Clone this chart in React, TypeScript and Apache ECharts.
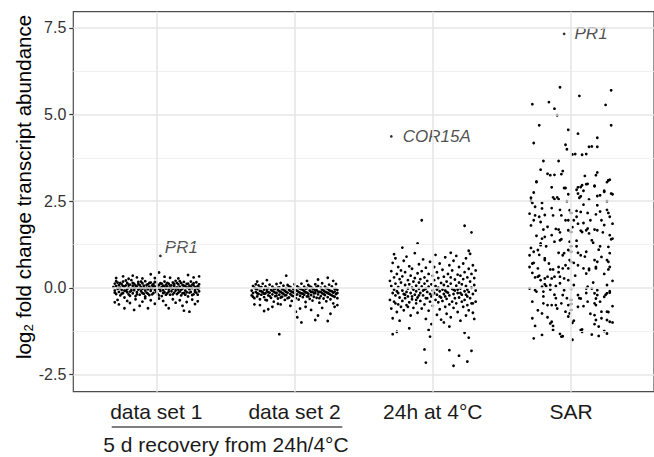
import React, { useEffect, useRef } from "react";
import * as echarts from "echarts";

const categories = ["data set 1", "data set 2", "24h at 4°C", "SAR"];
const yTicks = [-2.5, 0, 2.5, 5, 7.5];
const yMinor = [-1.25, 1.25, 3.75, 6.25];
const xTicks = [1, 2, 3, 4];

// each point: [horizontal jitter ×100 (category units), log2 fold change ×100]
const dataSet1: number[][] = [
  [-31,2],[-30,-8],[-30,12],[-29,-18],[-29,5],[-28,-3],[-28,15],[-27,-12],[-27,8],[-26,-22],[-26,0],[-25,10],[-25,-6],[-24,18],[-24,-15],[-23,3],[-23,-28],[-22,-9],[-22,7],[-21,14],[-21,-4],[-20,-19],[-20,1],[-19,9],[-19,-11],[-18,22],[-18,-2],[-17,-16],[-17,6],[-16,-7],[-16,12],[-15,-24],[-15,0],[-14,4],[-14,-13],[-13,17],[-13,-5],[-12,-20],[-12,8],[-11,2],[-11,-10],[-10,13],[-10,-3],[-9,-17],[-9,6],[-8,-8],[-8,19],[-7,0],[-7,-14],[-6,10],[-6,-4],[-5,-21],[-5,3],[-4,15],[-4,-9],[-3,-1],[-3,7],[-2,-15],[-2,11],[-1,-6],[-1,4],[0,-12],[0,16],[1,1],[1,-18],[2,8],[2,-3],[3,-9],[3,13],[4,-24],[4,2],[5,6],[5,-7],[6,18],[6,-13],[7,-2],[7,9],[8,-16],[8,4],[9,12],[9,-5],[10,-20],[10,0],[11,7],[11,-10],[12,15],[12,-3],[13,-14],[13,5],[14,-8],[14,20],[15,1],[15,-18],[16,10],[16,-5],[17,-11],[17,3],[18,14],[18,-22],[19,-2],[19,8],[20,-15],[20,17],[21,4],[21,-8],[22,-13],[22,11],[23,0],[23,-25],[24,6],[24,-4],[25,18],[25,-12],[26,-1],[26,9],[27,-19],[27,13],[28,2],[28,-7],[29,-14],[29,16],[30,5],[30,-3],[31,-10],[31,10],
  [-30,-14],[-29,19],[-27,-1],[-26,14],[-25,-17],[-24,5],[-23,-8],[-22,21],[-21,-13],[-20,9],[-19,-23],[-18,-8],[-17,14],[-16,-1],[-15,7],[-14,-19],[-13,11],[-12,-2],[-11,18],[-10,-15],[-9,0],[-8,-25],[-7,8],[-6,-17],[-5,14],[-4,-2],[-3,-19],[-2,3],[-1,17],[0,-4],[1,9],[2,-22],[3,-2],[4,12],[5,-15],[6,3],[7,-20],[8,14],[9,-11],[10,7],[11,-1],[12,-19],[13,11],[14,-2],[15,14],[16,-14],[17,19],[18,-6],[19,-16],[20,6],[21,-20],[22,1],[23,12],[24,-14],[25,3],[26,-21],[27,7],[28,-12],[29,1],[30,-20],[31,0],
  [-28,-35],[-27,-48],[-23,-59],[-21,-38],[-19,-44],[-16,-64],[-15,-33],[-12,-52],[-10,-40],[-6,-59],[-4,-36],[-1,-46],[2,-31],[5,-38],[9,-59],[12,-33],[14,-43],[17,-36],[19,-52],[20,-66],[22,-41],[24,-69],[26,-34],[28,-47],[30,-39],[-30,-42],[-8,-30],[7,-50],
  [-29,28],[-24,33],[-20,26],[-14,30],[-10,27],[-4,39],[-1,28],[2,44],[6,32],[10,29],[16,27],[23,37],[27,30],[31,33],[-17,35]
];

const dataSet2: number[][] = [
  [-31,-8],[-31,-22],[-30,5],[-30,-15],[-29,-30],[-29,0],[-28,-12],[-28,10],[-27,-25],[-27,-4],[-26,-18],[-26,7],[-25,-9],[-25,-33],[-24,2],[-24,-20],[-23,-13],[-23,12],[-22,-27],[-22,-5],[-21,-16],[-21,4],[-20,-10],[-20,-36],[-19,-1],[-19,-22],[-18,9],[-18,-14],[-17,-29],[-17,-6],[-16,-19],[-16,3],[-15,-11],[-15,-40],[-14,-3],[-14,-24],[-13,11],[-13,-15],[-12,-31],[-12,-7],[-11,-20],[-11,1],[-10,-12],[-10,14],[-9,-26],[-9,-4],[-8,-17],[-8,6],[-7,-9],[-7,-35],[-6,-1],[-6,-21],[-5,-14],[-5,8],[-4,-28],[-4,-6],[-3,-18],[-3,2],[-2,-11],[-2,-38],[-1,-3],[-1,-24],[0,10],[0,-15],[1,-30],[1,-7],[2,-19],[2,4],[3,-12],[3,-34],[4,-2],[4,-23],[5,12],[5,-16],[6,-27],[6,-6],[7,-20],[7,3],[8,-13],[8,-41],[9,-1],[9,-25],[10,8],[10,-17],[11,-32],[11,-8],[12,-21],[12,2],[13,-11],[13,-37],[14,-4],[14,-26],[15,10],[15,-15],[16,-29],[16,-7],[17,-19],[17,5],[18,-12],[18,-43],[19,0],[19,-24],[20,13],[20,-16],[21,-31],[21,-8],[22,-21],[22,3],[23,-13],[23,-39],[24,-2],[24,-27],[25,9],[25,-17],[26,-33],[26,-9],[27,-22],[27,4],[28,-14],[28,-45],[29,-3],[29,-26],[30,11],[30,-18],[31,-6],[31,-30],
  [-30,-26],[-28,-2],[-27,-16],[-25,1],[-24,-10],[-22,-17],[-21,-35],[-20,-3],[-19,-13],[-18,-24],[-16,-9],[-15,-2],[-14,-14],[-13,-23],[-12,0],[-11,-10],[-10,-28],[-9,-15],[-8,-5],[-7,-22],[-6,-12],[-5,-30],[-4,4],[-3,-9],[-2,-22],[-1,-13],[0,-5],[1,-20],[2,-9],[3,0],[4,-14],[5,-4],[6,-17],[7,-10],[8,-3],[9,-14],[10,-25],[11,4],[12,-12],[13,-2],[14,-16],[15,-8],[16,2],[17,-11],[18,-30],[19,-12],[20,-5],[21,-18],[22,-11],[23,-1],[24,-15],[25,-7],[26,-20],[27,-10],[28,-24],[29,-11],[30,-4],[31,-15],
  [-6,35],[24,29],[-20,22],[9,20],[-27,18],[17,24],[28,20],
  [-22,-67],[-19,-62],[-16,-55],[-25,-50],[-10,-48],[-3,-52],[1,-69],[2,-85],[5,-100],[4,-60],[8,-55],[12,-64],[15,-93],[17,-80],[20,-58],[24,-96],[26,-75],[29,-55],[31,-50],[-12,-46],[-29,-48],[-11,-134]
];

const cold24h: number[][] = [
  [-31,-35],[-31,20],[-30,-60],[-30,5],[-30,48],[-29,-15],[-29,72],[-29,-88],[-28,30],[-28,-40],[-28,-5],[-27,85],[-27,-22],[-27,12],[-26,-70],[-26,40],[-26,-10],[-25,60],[-25,-48],[-25,2],[-24,-28],[-24,25],[-24,-95],[-23,15],[-23,-55],[-23,50],[-22,-8],[-22,33],[-22,-38],[-21,78],[-21,-18],[-21,-65],[-20,8],[-20,-30],[-20,45],[-19,-12],[-19,90],[-19,-50],[-18,22],[-18,-25],[-18,-2],[-17,62],[-17,-42],[-17,10],[-16,-80],[-16,35],[-16,-15],[-15,0],[-15,-33],[-15,55],[-14,-58],[-14,18],[-14,-5],[-13,100],[-13,-20],[-13,28],[-12,-45],[-12,6],[-12,-10],[-11,42],[-11,-28],[-11,-72],[-10,15],[-10,-3],[-10,68],[-9,-38],[-9,25],[-9,-15],[-8,-60],[-8,4],[-8,48],[-7,-22],[-7,82],[-7,-8],[-6,30],[-6,-48],[-6,12],[-5,-90],[-5,-2],[-5,58],[-4,-30],[-4,20],[-4,-12],[-3,40],[-3,-66],[-3,3],[-2,-18],[-2,75],[-2,-40],[-1,10],[-1,-25],[-1,-105],[0,35],[0,-8],[0,-52],[1,60],[1,-15],[1,22],[2,-35],[2,5],[2,95],[3,-78],[3,-20],[3,45],[4,0],[4,-42],[4,28],[5,-10],[5,70],[5,-62],[6,14],[6,-28],[6,-92],[7,52],[7,-5],[7,-38],[8,32],[8,-18],[8,8],[9,-55],[9,88],[9,-8],[10,18],[10,-32],[10,-75],[11,40],[11,-14],[11,4],[12,-48],[12,65],[12,-22],[13,12],[13,-85],[13,30],[14,-3],[14,-40],[14,50],[15,-18],[15,78],[15,-58],[16,24],[16,-8],[16,-30],[17,92],[17,-45],[17,6],[18,-15],[18,38],[18,-70],[19,15],[19,-28],[19,60],[20,-2],[20,-95],[20,35],[21,-40],[21,10],[21,-20],[22,70],[22,-55],[22,25],[23,-10],[23,45],[23,-35],[24,-80],[24,5],[24,85],[25,-25],[25,30],[25,-50],[26,55],[26,-12],[26,-65],[27,18],[27,-30],[27,98],[28,-45],[28,40],[28,0],[29,-72],[29,65],[29,-18],[30,28],[30,-90],[30,8],[31,-40],[31,50],[31,-8],
  [-25,-15],[-20,-20],[-15,-25],[-10,-22],[-5,-30],[0,-20],[5,-25],[10,-12],[15,-5],[20,-15],[25,-5],[-27,-45],[-18,-55],[-12,-35],[-6,-5],[3,-5],[9,-25],[18,-5],[24,-20],[29,-45],
  [-8,195],[23,179],[28,160],[-11,128],[-22,116],[-28,97],[26,107],[13,101],[-29,-134],[-26,-127],[-17,-117],[-3,-122],[-2,-141],[-6,-178],[-5,-216],[12,-180],[19,-196],[25,-213],[28,-182],[15,-225],[23,-130],[26,-144],[8,-100],[12,-112]
];

const sar: number[][] = [
  [-8,579],[-28,530],[-16,536],[-12,517],[-10,498],[6,554],[29,570],[25,528],[29,469],[-23,469],[-2,456],[5,445],[-27,418],[-4,413],[-3,400],[19,433],[13,407],[15,408],[19,407],[1,385],[3,386],[8,384],[11,386],[-20,366],[-9,366],[-22,341],[-17,329],[-15,325],[-12,326],[-6,337],[-7,328],[19,333],[18,325],[-25,307],[10,323],[27,310],[28,312],[-4,288],[5,290],[8,296],[12,300],[17,295],[24,280],[29,272],[-29,260],[-13,261],[-10,261],
  [-25,305],[-5,288],[4,283],[7,291],[11,299],[17,293],[26,305],[27,310],[-12,256],[-9,256],[-29,251],[-28,245],[-26,234],[-21,229],[5,272],[7,264],[21,267],[24,277],[30,270],[19,238],[-30,214],[-26,209],[-23,205],[-27,195],[-13,209],[-7,209],[-1,224],[0,216],[4,222],[7,219],[12,216],[18,212],[27,216],[28,205],[-2,195],[2,195],[5,185],[9,187],[-20,168],[-17,176],[-9,168],[-2,166],[0,161],[8,161],[11,166],[12,171],[13,157],[17,168],[19,166],[24,181],[15,137],[21,120],[27,118],[28,152],[30,142],[-21,142],[-19,147],[-14,152],[-12,133],[-8,137],[-1,133],[4,136],[-22,128],[-22,123],[-27,104],[-30,94],[-24,109],[-19,85],[-9,101],[-6,94],[-2,109],[0,104],[5,101],[7,94],[11,104],[17,80],[19,75],[22,89],[26,80],[28,60],[27,53],[-28,70],[-27,72],[-24,56],[-19,80],[-15,53],[-13,53],[-9,60],[-6,56],[-4,65],[-2,56],[0,75],[2,72],[5,65],[9,56],[11,41],[13,51],[18,56],[-28,43],[-24,32],[-22,22],[-19,27],[-17,32],[-14,27],[-12,32],[-8,32],[-5,27],[-2,22],[2,8],[12,3],[11,-2],[15,-2],[19,-7],[26,8],[-30,-2],[-26,-7],[-25,-11],[-21,3],[-20,-11],[-18,5],[-15,8],[-11,5],[-8,13],[-5,-7],[0,-2],[-6,-21],[0,-35],[5,-21],[7,-31],[17,-16],[19,-21],[18,-31],[24,-26],[26,-16],[28,-10],[28,-14],[-20,-45],[-17,-50],[-14,-50],[-11,-50],[-7,-45],[-2,-50],[0,-47],[9,-53],[17,-45],[18,-50],[30,-53],[0,-64],[-1,-74],[-4,-69],[-2,-83],[-28,-88],[-21,-74],[-15,-103],[-14,-98],[-13,-122],[-8,-133],[-7,-141],[-27,-146],[-21,-136],[1,-101],[7,-122],[8,-127],[17,-79],[18,-93],[22,-69],[26,-69],[20,-112],[26,-93],[28,-98],[20,-139],[26,-132],
  [-29,180],[-25,150],[-22,190],[-18,120],[-14,230],[-11,170],[-7,140],[-3,250],[1,175],[4,120],[9,240],[14,195],[16,130],[21,220],[23,160],[26,250],[30,185],
  [-30,60],[-26,30],[-23,95],[-19,10],[-16,70],[-12,-20],[-9,45],[-5,100],[-1,80],[3,35],[6,-30],[10,90],[13,55],[16,15],[20,110],[24,40],[27,75],[30,20],
  [-28,-40],[-24,-65],[-20,-25],[-17,-85],[-13,-110],[-10,-60],[-6,-140],[-3,-30],[2,-95],[5,-55],[8,-120],[11,-15],[14,-75],[17,-105],[21,-40],[24,-125],[27,-70],[30,-100],
  [-27,275],[-21,245],[-14,290],[-8,225],[-2,270],[4,205],[9,280],[13,255],[19,265],[22,195],[26,225],[29,140],
  [-29,115],[-23,35],[-15,-5],[-8,160],[0,120],[7,165],[12,-40],[18,60],[25,-20],[-26,-110],[-11,-30],[1,-150],[15,-135],[22,-88],[-19,210],[6,260],[-4,195],[28,100]
];

// labelled genes: group index, jitter ×100, value ×100
const genes = [
  { gene: "PR1", group: 0, dx: 3, v: 92 },
  { gene: "COR15A", group: 2, dx: -30, v: 437 },
  { gene: "PR1", group: 3, dx: -5, v: 733 },
];
const geneLabelOffsets: number[][] = [[-2, -8], [5, 0], [4, 0]];

const groups = [dataSet1, dataSet2, cold24h, sar];

const FONT = "'Liberation Sans', Arial, Helvetica, sans-serif";

export default function App() {
  const ref = useRef<HTMLDivElement>(null);
  useEffect(() => {
    if (!ref.current) return;
    const chart = echarts.init(ref.current, null, { renderer: "svg" });
    const toPoints = (arr: number[][], gi: number) =>
      arr.map(([dx, v]) => [gi + 1 + dx / 100, v / 100]);
    const allPoints = groups.flatMap((g, i) => toPoints(g, i));

    const gridLineSeries = {
      type: "scatter",
      data: [],
      z: 1,
      silent: true,
      markLine: {
        silent: true,
        symbol: ["none", "none"],
        label: { show: false },
        animation: false,
        data: [
          ...yMinor.map((y) => ({ yAxis: y, lineStyle: { color: "#eeeeee", width: 0.9, type: "solid" } })),
          ...yTicks.map((y) => ({ yAxis: y, lineStyle: { color: "#e6e6e6", width: 1.6, type: "solid" } })),
          ...xTicks.map((x) => ({ xAxis: x, lineStyle: { color: "#e6e6e6", width: 1.6, type: "solid" } })),
        ],
      },
    };

    chart.setOption({
      animation: false,
      textStyle: { fontFamily: FONT },
      grid: {
        left: 73.3,
        top: 11.7,
        right: -10.4,
        bottom: 65.3,
        show: true,
        borderColor: "#4d4d4d",
        borderWidth: 1.2,
        backgroundColor: "transparent",
        containLabel: false,
      },
      xAxis: {
        type: "value",
        min: 0.4,
        max: 4.6,
        axisLine: { show: false },
        splitLine: { show: false },
        axisTick: { show: true, customValues: xTicks, length: 3, lineStyle: { color: "#333", width: 1.2 } },
        axisLabel: {
          customValues: xTicks,
          formatter: (v: number) => categories[Math.round(v) - 1] ?? "",
          fontSize: 21,
          color: "#1a1a1a",
          margin: 9,
          fontFamily: FONT,
        },
      },
      yAxis: {
        type: "value",
        min: -3.0,
        max: 7.97,
        axisLine: { show: false },
        splitLine: { show: false },
        axisTick: { show: true, customValues: yTicks, length: 4, lineStyle: { color: "#333", width: 1.2 } },
        axisLabel: {
          customValues: yTicks,
          formatter: (v: number) => v.toFixed(1),
          fontSize: 16,
          color: "#333",
          margin: 7,
          fontFamily: FONT,
        },
      },
      series: [
        gridLineSeries,
        {
          type: "scatter",
          z: 3,
          symbolSize: 2.8,
          itemStyle: { color: "#000", opacity: 1 },
          data: allPoints,
        },
        {
          type: "scatter",
          z: 4,
          symbolSize: 2.8,
          itemStyle: { color: "#000" },
          data: genes.map((g, i) => ({
            value: [g.group + 1 + g.dx / 100, g.v / 100],
            label: {
              show: true,
              formatter: g.gene,
              position: "right",
              offset: geneLabelOffsets[i],
              fontStyle: "italic",
              fontSize: 17,
              color: "#222",
              fontFamily: FONT,
            },
          })),
        },
      ],
      graphic: [
        {
          type: "text",
          x: 23,
          y: 187,
          rotation: Math.PI / 2,
          style: {
            text: "log₂ fold change transcript abundance",
            fontSize: 20.5,
            fontFamily: FONT,
            fill: "#000",
            textAlign: "center",
            textVerticalAlign: "middle",
          },
        },
        {
          type: "line",
          shape: { x1: 111.7, y1: 427, x2: 342.3, y2: 427 },
          style: { stroke: "#555", lineWidth: 1.6 },
        },
        {
          type: "text",
          x: 226,
          y: 444,
          style: {
            text: "5 d recovery from 24h/4°C",
            fontSize: 21,
            fontFamily: FONT,
            fill: "#1a1a1a",
            textAlign: "center",
            textVerticalAlign: "middle",
          },
        },
      ],
    });
    return () => chart.dispose();
  }, []);
  return (
    <div
      ref={ref}
      style={{ position: "fixed", left: 0, top: 0, width: 654, height: 457, background: "#fff" }}
    />
  );
}
